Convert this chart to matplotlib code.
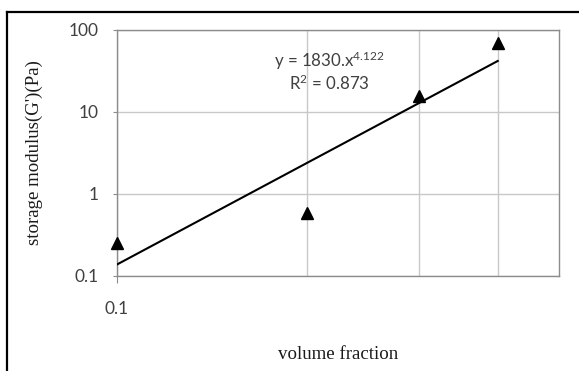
import numpy as np
import matplotlib
matplotlib.use("Agg")
import matplotlib.pyplot as plt
from matplotlib.lines import Line2D

# volume fraction vs storage modulus G' (Pa)
volume_fraction = [0.1, 0.2, 0.3, 0.4]
storage_modulus = [0.25, 0.59, 15.5, 69]

# power-law trendline y = a * x^b
fit_a = 1830.0
fit_b = 4.122
fit_r2 = 0.873

y_ticks = [0.1, 1, 10, 100]
y_ticklabels = ["0.1", "1", "10", "100"]
x_ticks = [0.1]
x_ticklabels = ["0.1"]
x_minor = [0.2, 0.3, 0.4]

plt.rcParams["mathtext.fontset"] = "custom"
plt.rcParams["mathtext.rm"] = "Lato"
plt.rcParams["mathtext.it"] = "Lato:italic"

W, H = 579, 371
fig = plt.figure(figsize=(W / 100, H / 100), dpi=100)
fig.patch.set_facecolor("white")

# chart frame (left and top edges)
fig.add_artist(Line2D([7 / W, 7 / W], [0, 1 - 12 / H], color="black", lw=1.6))
fig.add_artist(Line2D([7 / W, 1], [1 - 12 / H, 1 - 12 / H], color="black", lw=1.6))

ax = fig.add_axes([117 / W, 1 - 276 / H, (559 - 117) / W, (276 - 30) / H])
ax.set_xscale("log")
ax.set_yscale("log")
ax.set_xlim(0.1, 0.5)
ax.set_ylim(0.1, 100)

grid_col = "#c8c8c8"
for s in ax.spines.values():
    s.set_color("#8c8c8c")
    s.set_linewidth(1.0)

ax.set_yticks(y_ticks)
ax.set_yticklabels(y_ticklabels)
ax.yaxis.set_minor_locator(matplotlib.ticker.NullLocator())
ax.set_xticks(x_ticks)
ax.set_xticklabels(x_ticklabels)
ax.set_xticks(x_minor, minor=True)
ax.xaxis.set_minor_formatter(matplotlib.ticker.NullFormatter())

ax.grid(True, which="major", axis="y", color=grid_col, lw=1.0)
ax.grid(True, which="both", axis="x", color=grid_col, lw=1.0)
ax.set_axisbelow(True)

ax.tick_params(axis="y", which="major", length=3, pad=10, color="#8c8c8c",
               labelsize=12.5, labelcolor="#404040")
ax.tick_params(axis="x", which="major", length=5, pad=13, color="#8c8c8c",
               labelsize=12.5, labelcolor="#404040")
ax.tick_params(axis="x", which="minor", length=0)
for lab in ax.get_xticklabels() + ax.get_yticklabels():
    lab.set_fontfamily("Lato")

# trendline over the data range
xs = np.array([volume_fraction[0], volume_fraction[-1]])
xfit = np.logspace(np.log10(xs[0]), np.log10(xs[1]), 50)
ax.plot(xfit, fit_a * xfit ** fit_b, color="black", lw=1.5, zorder=3)

ax.plot(volume_fraction, storage_modulus, linestyle="none", marker="^",
        markersize=9, color="black", zorder=4, clip_on=False)

ax.text(329 / W, 1 - 61 / H, r"y = 1830.x$^{\mathrm{4.122}}$", transform=fig.transFigure,
        ha="center", va="center", fontsize=12.2, color="#404040", family="Lato")
ax.text(329 / W, 1 - 83 / H, "R$^{\\mathrm{2}}$ = %.3f" % fit_r2, transform=fig.transFigure,
        ha="center", va="center", fontsize=12.2, color="#404040", family="Lato")

ax.set_ylabel("storage modulus(G')(Pa)", family="Liberation Serif", fontsize=13.6,
              color="#1a1a1a")
ax.yaxis.set_label_coords((43 - 117) / 442, 0.5)
ax.set_xlabel("volume fraction", family="Liberation Serif", fontsize=13.6, color="#1a1a1a")
ax.xaxis.set_label_coords(0.5, (276 - 346) / 246)

fig.savefig("out.png", dpi=100)
